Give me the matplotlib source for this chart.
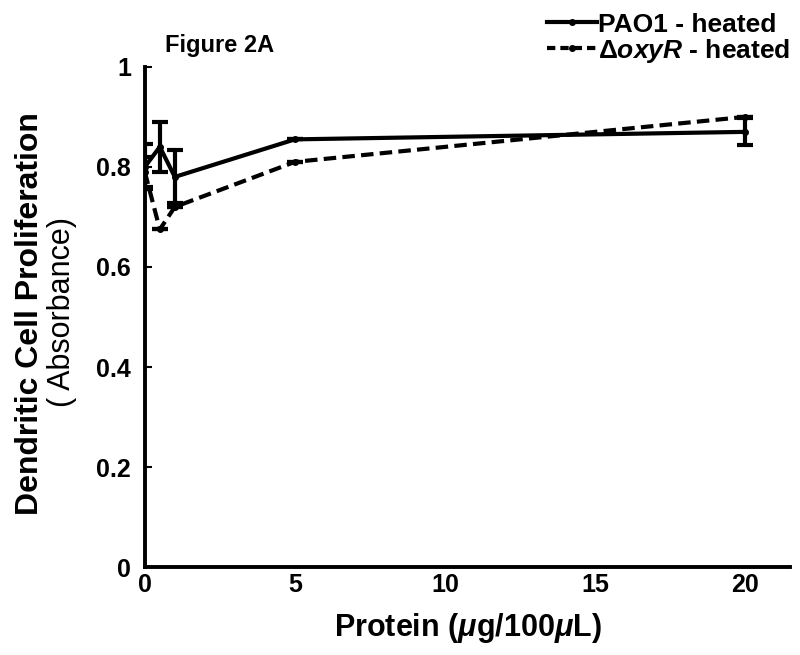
import matplotlib.pyplot as plt
from matplotlib.lines import Line2D

plt.rcParams['font.family'] = ['Liberation Sans', 'DejaVu Sans']
plt.rcParams['font.weight'] = 'bold'
plt.rcParams['axes.labelweight'] = 'bold'
plt.rcParams['mathtext.fontset'] = 'custom'
plt.rcParams['mathtext.it'] = 'Liberation Sans:bold:italic'
plt.rcParams['mathtext.rm'] = 'Liberation Sans:bold'

# protein dose (ug/100uL)
protein = [0, 0.5, 1, 5, 20]
pao1 = [0.80, 0.84, 0.78, 0.855, 0.87]
pao1_err = [0.045, 0.05, 0.053, 0, 0.027]
oxyr = [0.79, 0.675, 0.72, 0.81, 0.90]
oxyr_err = [0.03, 0, 0, 0, 0]

labels = ['PAO1 - heated', r'Δ$\mathit{oxyR}$ - heated']
yticks = [0, 0.2, 0.4, 0.6, 0.8, 1]
xticks = [0, 5, 10, 15, 20]

fig = plt.figure(figsize=(8, 6.55), dpi=100)
ax = fig.add_axes([0.181, 0.134, 0.807, 0.764])

ax.errorbar(protein, pao1, yerr=pao1_err, color='black', lw=3, ls='-',
            marker='o', ms=4, capsize=6, capthick=3, elinewidth=3)
ax.errorbar(protein, oxyr, yerr=oxyr_err, color='black', lw=3, ls=(0, (3, 1.5)),
            marker='o', ms=4, capsize=6, capthick=3, elinewidth=3)

ax.set_xlim(0, 21.5)
ax.set_ylim(0, 1)
ax.set_xticks(xticks)
ax.set_xticklabels([str(t) for t in xticks])
ax.set_yticks(yticks)
ax.set_yticklabels(['0', '0.2', '0.4', '0.6', '0.8', '1'])
ax.tick_params(direction='in', length=5, width=1.5, labelsize=18, pad=10)
ax.tick_params(axis='x', length=0, pad=4)
for s in ['top', 'right']:
    ax.spines[s].set_visible(False)
for s in ['left', 'bottom']:
    ax.spines[s].set_linewidth(2.8)

ax.set_xlabel(r'Protein ($\mu$g/100$\mu$L)', fontsize=22, labelpad=10)

fig.text(0.0375, 0.521, 'Dendritic Cell Proliferation', rotation=90,
         fontsize=23, fontweight='bold', ha='center', va='center')
fig.text(0.0775, 0.524, '( Absorbance)', rotation=90,
         fontsize=22, fontweight='normal', ha='center', va='center')

fig.text(0.206, 0.931, 'Figure 2A', fontsize=17, va='center', ha='left')

handles = [Line2D([], [], color='black', lw=3, ls='-', marker='o', ms=4),
           Line2D([], [], color='black', lw=3, ls=(0, (2, 1.2)), marker='o', ms=4)]
fig.legend(handles, labels, loc='upper right', bbox_to_anchor=(1.008, 1.005),
           frameon=False, fontsize=19, handlelength=1.9, handletextpad=0.05,
           labelspacing=0.0, borderaxespad=0.2)

fig.savefig('out.png', dpi=100)
